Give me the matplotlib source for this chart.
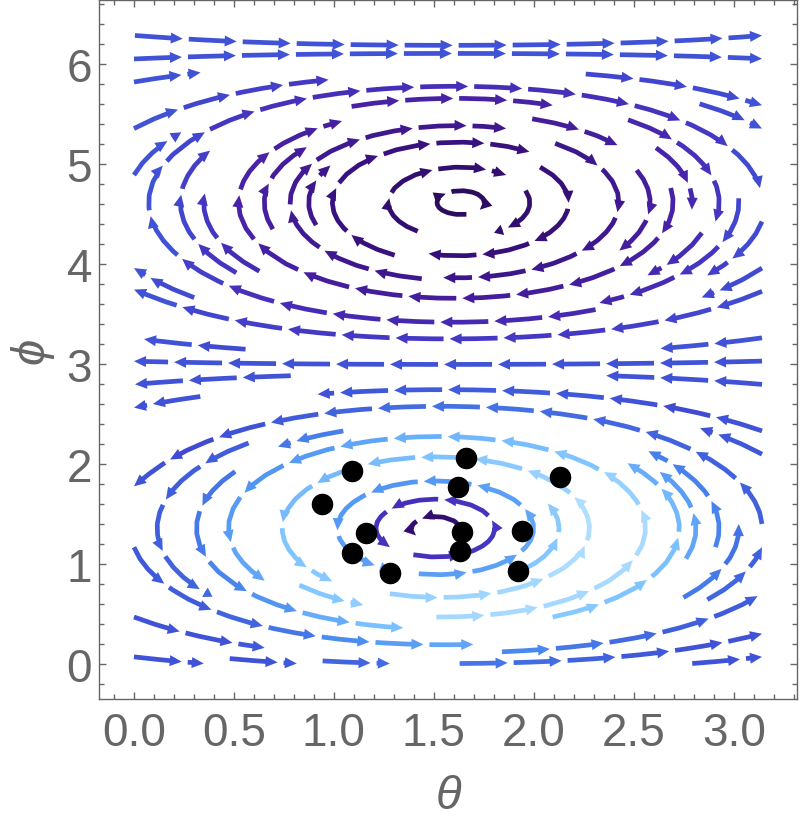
import numpy as np
import matplotlib
matplotlib.use("Agg")
import matplotlib.pyplot as plt
from matplotlib.collections import LineCollection, PolyCollection
from matplotlib.colors import LinearSegmentedColormap
from matplotlib.ticker import MultipleLocator, FormatStrFormatter


# =========================
# DATA
# =========================

# measured sample points (theta, phi)
theta_pts = [1.09, 1.66, 2.13, 1.62, 0.94, 1.16, 1.64, 1.94, 1.09, 1.63, 1.28, 1.92]
phi_pts = [1.93, 2.06, 1.87, 1.77, 1.60, 1.31, 1.32, 1.33, 1.11, 1.13, 0.91, 0.93]

x_ticks = [0.0, 0.5, 1.0, 1.5, 2.0, 2.5, 3.0]
y_ticks = [0, 1, 2, 3, 4, 5, 6]

# flow model parameters (two counter-rotating vortex rows)
PHASE = 0.16        # vortex rows sit slightly below pi/2 and 3pi/2
PHASE_VAR = 0.06    # lower row sits a little further down
TILT = 0.065        # theta offset of the vortex centres
K = 1.0
BOOST_AMP = 2.3     # faster circulation around the lower vortex
BOOST_CENTER = (1.62, 1.30)
BOOST_SIZE = (1.1, 1.045)
SPEED_SCALE = 2.22  # magnitude that maps to the top of the colour scale


def field(th, ph):
    b = -TILT * np.sin(ph)
    ps = ph + PHASE + PHASE_VAR * np.sin(ph)
    u = np.cos(ps)
    v = -K * np.cos(th - b) * np.sin(ps)
    return u, v


def magnitude(th, ph):
    u, v = field(th, ph)
    r2 = ((th - BOOST_CENTER[0]) / BOOST_SIZE[0]) ** 2 + ((ph - BOOST_CENTER[1]) / BOOST_SIZE[1]) ** 2
    boost = 1 + BOOST_AMP * np.exp(-(r2 ** 2))
    return np.hypot(u, v) * boost


# =========================
# STYLE
# =========================

GRAY = "#666666"
FONT = ["Liberation Sans", "DejaVu Sans"]
cmap = LinearSegmentedColormap.from_list(
    "stream",
    [
        (0.00, "#2a0a58"),
        (0.25, "#37107c"),
        (0.40, "#4822a8"),
        (0.435, "#4438c4"),
        (0.455, "#3f58da"),
        (0.61, "#4a8ef0"),
        (0.79, "#7cc2ff"),
        (1.00, "#c4e9ff"),
    ],
)

XLIM = (-0.175, np.pi + 0.175)
YLIM = (-0.355, 2 * np.pi + 0.355)
AX_PX = (698, 699)
sx = AX_PX[0] / (XLIM[1] - XLIM[0])
sy = AX_PX[1] / (YLIM[1] - YLIM[0])

SEG_LEN = 48.0
GAP = 6.0
HEAD_LEN = 12.0
HEAD_HALF = 5.5


# =========================
# STREAMLINES
# =========================

def get_trajectories():
    th = np.linspace(0, np.pi, 160)
    ph = np.linspace(0, 2 * np.pi, 320)
    TH, PH = np.meshgrid(th, ph)
    U, V = field(TH, PH)
    tmp_fig, tmp_ax = plt.subplots()
    sp = tmp_ax.streamplot(th, ph, U, V, density=0.95, broken_streamlines=True)
    segs = [np.asarray(s) for s in sp.lines.get_segments()]
    plt.close(tmp_fig)

    if any(len(s) > 2 for s in segs):
        return [s for s in segs if len(s) > 1]

    # older matplotlib: two-point segments, join them back together
    trajs = []
    cur = None
    for s in segs:
        if cur is not None and np.allclose(s[0], cur[-1]):
            cur.append(s[1])
        else:
            if cur is not None:
                trajs.append(np.array(cur))
            cur = [s[0], s[1]]
    if cur is not None:
        trajs.append(np.array(cur))
    return trajs


def to_px(pts):
    return np.column_stack([(pts[:, 0] - XLIM[0]) * sx, (pts[:, 1] - YLIM[0]) * sy])


def to_data(pts):
    return np.column_stack([pts[:, 0] / sx + XLIM[0], pts[:, 1] / sy + YLIM[0]])


def chop(path):
    d = np.hypot(*np.diff(path, axis=0).T)
    keep = np.concatenate([[True], d > 1e-9])
    path = path[keep]
    d = np.hypot(*np.diff(path, axis=0).T)
    s = np.concatenate([[0], np.cumsum(d)])
    total = s[-1]
    pieces = []
    start = 0.0
    while start < total - 5:
        end = min(start + SEG_LEN, total)
        n = max(int((end - start) / 2) + 2, 3)
        ss = np.linspace(start, end, n)
        x = np.interp(ss, s, path[:, 0])
        y = np.interp(ss, s, path[:, 1])
        pieces.append((np.column_stack([x, y]), ss - start))
        start = end + GAP
    return pieces


shafts, heads, values = [], [], []
for traj in get_trajectories():
    px = to_px(traj)
    for piece, arc in chop(px):
        length = arc[-1]
        tip = piece[-1]
        back = piece[-1] - piece[-2]
        dirv = back / (np.hypot(*back) + 1e-12)
        perp = np.array([-dirv[1], dirv[0]])
        hl = min(HEAD_LEN, length)
        base = tip - dirv * hl
        head = np.array([tip, base + perp * HEAD_HALF, base - perp * HEAD_HALF])
        shaft = piece[arc <= length - hl * 0.6]
        mid = to_data(piece[len(piece) // 2][None, :])[0]
        values.append(magnitude(mid[0], mid[1]))
        shafts.append(to_data(shaft) if len(shaft) > 1 else to_data(piece[:2]))
        heads.append(to_data(head))

colors = cmap(np.clip(np.array(values) / SPEED_SCALE, 0, 1))


# =========================
# PLOT
# =========================

fig = plt.figure(figsize=(8.0, 8.28), dpi=100)
ax = fig.add_axes([99 / 800, 128 / 828, 698 / 800, 699 / 828])

ax.add_collection(LineCollection(shafts, colors=colors, linewidths=3.4, capstyle="butt", zorder=2))
ax.add_collection(PolyCollection(heads, facecolors=colors, edgecolors="none", zorder=2))

ax.plot(theta_pts, phi_pts, "o", color="black", markersize=14.5, zorder=5)

ax.set_xlim(*XLIM)
ax.set_ylim(*YLIM)

ax.set_xticks(x_ticks)
ax.set_yticks(y_ticks)
ax.xaxis.set_minor_locator(MultipleLocator(0.1))
ax.yaxis.set_minor_locator(MultipleLocator(0.2))
ax.xaxis.set_major_formatter(FormatStrFormatter("%.1f"))
ax.yaxis.set_major_formatter(FormatStrFormatter("%d"))
ax.tick_params(which="both", direction="in", top=True, right=True, color=GRAY, width=1)
ax.tick_params(which="major", length=5)
ax.tick_params(which="minor", length=3.5)
ax.tick_params(axis="x", which="major", pad=9, labelsize=33, labelcolor=GRAY)
ax.tick_params(axis="y", which="major", pad=5, labelsize=33, labelcolor=GRAY)
for lab in ax.get_xticklabels() + ax.get_yticklabels():
    lab.set_family(FONT)

for sp in ax.spines.values():
    sp.set_color(GRAY)
    sp.set_linewidth(1)

ax.set_xlabel("θ", family=FONT, style="italic", fontsize=34, color=GRAY, va="center")
ax.xaxis.set_label_coords(0.5, -97 / 699)
ax.set_ylabel("ϕ", family=FONT, style="italic", fontsize=34, color=GRAY, va="center", ha="center")
ax.yaxis.set_label_coords(-68 / 698, 0.5)

fig.savefig("out.png", dpi=100)
